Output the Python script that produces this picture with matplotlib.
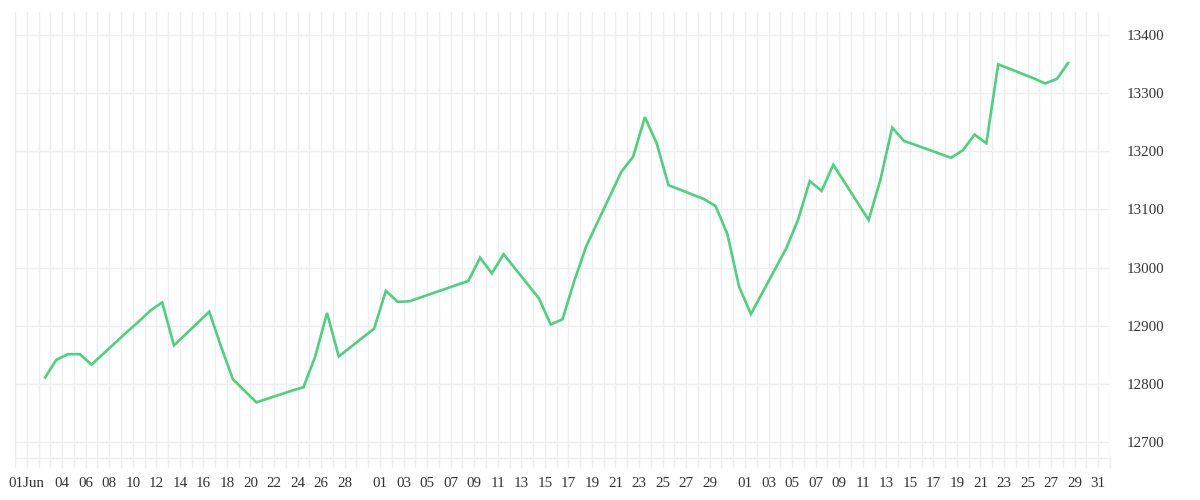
import matplotlib
matplotlib.use("Agg")
import matplotlib.pyplot as plt
import matplotlib.dates as mdates
import pandas as pd
from matplotlib.ticker import MultipleLocator, FixedLocator

dates = [
    "2025-06-02", "2025-06-03", "2025-06-04", "2025-06-05", "2025-06-06",
    "2025-06-09", "2025-06-10", "2025-06-11", "2025-06-12", "2025-06-13",
    "2025-06-16", "2025-06-17", "2025-06-18", "2025-06-20", "2025-06-23",
    "2025-06-24", "2025-06-25", "2025-06-26", "2025-06-27", "2025-06-30",
    "2025-07-01", "2025-07-02", "2025-07-03", "2025-07-07", "2025-07-08",
    "2025-07-09", "2025-07-10", "2025-07-11", "2025-07-14", "2025-07-15",
    "2025-07-16", "2025-07-17", "2025-07-18", "2025-07-21", "2025-07-22",
    "2025-07-23", "2025-07-24", "2025-07-25", "2025-07-28", "2025-07-29",
    "2025-07-30", "2025-07-31", "2025-08-01", "2025-08-04", "2025-08-05",
    "2025-08-06", "2025-08-07", "2025-08-08", "2025-08-11", "2025-08-12",
    "2025-08-13", "2025-08-14", "2025-08-15", "2025-08-18", "2025-08-19",
    "2025-08-20", "2025-08-21", "2025-08-22", "2025-08-25", "2025-08-26",
    "2025-08-27", "2025-08-28",
]
values = [
    12809, 12841, 12851, 12851, 12833,
    12889, 12907, 12926, 12940, 12866,
    12924, 12864, 12808, 12768, 12788,
    12794, 12847, 12922, 12847, 12895,
    12960, 12941, 12942, 12970, 12977,
    13017, 12990, 13023, 12947, 12902,
    12911, 12977, 13036, 13165, 13191,
    13259, 13214, 13142, 13118, 13106,
    13058, 12967, 12920, 13033, 13082,
    13149, 13132, 13177, 13082, 13151,
    13241, 13218, 13211, 13189, 13202,
    13229, 13214, 13350, 13326, 13317,
    13325, 13354,
]

tick_dates = [
    "2025-06-01", "2025-06-04", "2025-06-06", "2025-06-08", "2025-06-10",
    "2025-06-12", "2025-06-14", "2025-06-16", "2025-06-18", "2025-06-20",
    "2025-06-22", "2025-06-24", "2025-06-26", "2025-06-28",
    "2025-07-01", "2025-07-03", "2025-07-05", "2025-07-07", "2025-07-09",
    "2025-07-11", "2025-07-13", "2025-07-15", "2025-07-17", "2025-07-19",
    "2025-07-21", "2025-07-23", "2025-07-25", "2025-07-27", "2025-07-29",
    "2025-08-01", "2025-08-03", "2025-08-05", "2025-08-07", "2025-08-09",
    "2025-08-11", "2025-08-13", "2025-08-15", "2025-08-17", "2025-08-19",
    "2025-08-21", "2025-08-23", "2025-08-25", "2025-08-27", "2025-08-29",
    "2025-08-31",
]
tick_labels = [
    "01Jun", "04", "06", "08", "10", "12", "14", "16", "18", "20",
    "22", "24", "26", "28",
    "01", "03", "05", "07", "09", "11", "13", "15", "17", "19",
    "21", "23", "25", "27", "29",
    "01", "03", "05", "07", "09", "11", "13", "15", "17", "19",
    "21", "23", "25", "27", "29", "31",
]

plt.rcParams['font.family'] = ['Liberation Serif', 'DejaVu Serif']

GRID = '#eeeeee'
TEXT = '#333333'

fig = plt.figure(figsize=(12, 5), dpi=100)
ax = fig.add_axes([15 / 1200, 1 - 458 / 500, 1095 / 1200, 446 / 500])

x = pd.to_datetime(dates) + pd.Timedelta(hours=12)
ax.plot(x, values, color='#4cd17e', lw=1.9, solid_joinstyle='miter',
        solid_capstyle='butt', zorder=3)

ax.set_xlim(pd.Timestamp("2025-05-31"), pd.Timestamp("2025-09-01"))
ax.set_ylim(12672.2, 13440)

ax.xaxis.set_major_locator(FixedLocator(mdates.date2num(pd.to_datetime(tick_dates))))
ax.xaxis.set_major_formatter(plt.FixedFormatter(tick_labels))
ax.xaxis.set_minor_locator(mdates.DayLocator())
ax.yaxis.set_major_locator(MultipleLocator(100))
ax.yaxis.tick_right()

ax.set_axisbelow(True)
ax.grid(axis='x', which='both', color=GRID, lw=1)
ax.grid(axis='y', which='major', color=GRID, lw=1)

ax.tick_params(axis='x', which='both', length=7.2, width=1, color=GRID,
               labelsize=10.8, labelcolor=TEXT, pad=6.5)
ax.tick_params(axis='y', which='both', length=0, labelsize=10.8,
               labelcolor=TEXT, pad=12)

for s in ['top', 'left', 'right']:
    ax.spines[s].set_visible(False)
ax.spines['bottom'].set_color(GRID)
ax.spines['bottom'].set_linewidth(1)

fig.savefig("out.png", dpi=100)
